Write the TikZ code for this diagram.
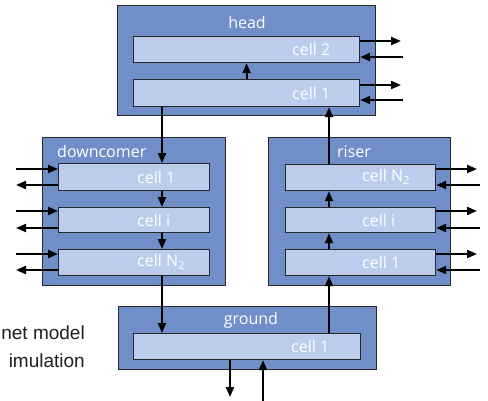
\documentclass[tikz,border=0pt]{standalone}
\usepackage{fontspec}
\setmainfont{Open Sans}
\newfontfamily\sidefont{Liberation Sans}
\usetikzlibrary{arrows.meta}
\definecolor{outerblue}{RGB}{112,142,200}
\definecolor{innerblue}{RGB}{188,204,236}
\definecolor{edgegray}{RGB}{40,40,40}
\tikzset{
  outerbox/.style={draw=edgegray,line width=1pt,fill=outerblue,inner sep=0pt,anchor=north west},
  cellbox/.style={draw=edgegray,line width=1.2pt,fill=innerblue,inner sep=0pt,anchor=north west},
  celltext/.style={text=white,font=\fontsize{16}{16}\selectfont,anchor=west,inner sep=0pt},
  titletext/.style={text=white,font=\fontsize{16}{16}\selectfont,inner sep=0pt},
  sidetext/.style={text=black!88,font=\sidefont\fontsize{19}{19}\selectfont,inner sep=0pt},
  arr/.style={line width=2pt,-{Triangle[length=10pt,width=8pt]}}
}
\begin{document}
\begin{tikzpicture}[x=1pt,y=-1pt]
\useasboundingbox (0,0) rectangle (488,400);
% outer boxes
\node[outerbox,minimum width=258pt,minimum height=110pt] (head) at (117,5) {};
\node[outerbox,minimum width=183pt,minimum height=148pt] (down) at (42,137) {};
\node[outerbox,minimum width=182pt,minimum height=148pt] (riser) at (268,137) {};
\node[outerbox,minimum width=258pt,minimum height=63pt] (ground) at (118,306) {};
% titles
\node[titletext] (headt) at (247,22) {head};
\node[titletext,anchor=west] (downt) at (57,151) {downcomer};
\node[titletext,anchor=west] (risert) at (337,152) {riser};
\node[titletext] (groundt) at (251,320) {ground};
% head cells
\node[cellbox,minimum width=226pt,minimum height=26pt] (h2) at (133,36) {};
\node[cellbox,minimum width=226pt,minimum height=27pt] (h1) at (133,79) {};
\node[celltext] (h2t) at (292,49) {cell 2};
\node[celltext] (h1t) at (292,93) {cell 1};
% downcomer cells
\node[cellbox,minimum width=151pt,minimum height=27pt] (d1) at (58,163) {};
\node[cellbox,minimum width=151pt,minimum height=25pt] (d2) at (58,207) {};
\node[cellbox,minimum width=151pt,minimum height=26pt] (d3) at (58,249) {};
\node[celltext] (d1t) at (137,177) {cell 1};
\node[celltext] (d2t) at (137,220) {cell i};
\node[celltext] (d3t) at (137,262) {cell N\textsubscript{2}};
% riser cells
\node[cellbox,minimum width=150pt,minimum height=26pt] (r3) at (285,164) {};
\node[cellbox,minimum width=150pt,minimum height=25pt] (r2) at (285,207) {};
\node[cellbox,minimum width=150pt,minimum height=26pt] (r1) at (285,249) {};
\node[celltext] (r3t) at (362,177) {cell N\textsubscript{2}};
\node[celltext] (r2t) at (362,220) {cell i};
\node[celltext] (r1t) at (362,262) {cell 1};
% ground cell
\node[cellbox,minimum width=227pt,minimum height=26pt] (g1) at (133,333) {};
\node[celltext] (g1t) at (291,346) {cell 1};
% side text
\node[sidetext,anchor=base east] (s1) at (85,339) {net model};
\node[sidetext,anchor=base east] (s2) at (85,367) {imulation};
% column coordinates
\coordinate (dx) at (162,0);
\coordinate (rx) at (329,0);
\coordinate (bdx) at (230,0);
\coordinate (bux) at (263,0);
% vertical flow
\draw[arr] (h1.north) -- (h2.south);
\draw[arr] (h1.south -| dx) -- (d1.north -| dx);
\draw[arr] (d1.south -| dx) -- (d2.north -| dx);
\draw[arr] (d2.south -| dx) -- (d3.north -| dx);
\draw[arr] (d3.south -| dx) -- (g1.north -| dx);
\draw[arr] (g1.north -| rx) -- (r1.south -| rx);
\draw[arr] (r1.north -| rx) -- (r2.south -| rx);
\draw[arr] (r2.north -| rx) -- (r3.south -| rx);
\draw[arr] (r3.north -| rx) -- (h1.south -| rx);
% bottom
\coordinate (bd) at (230,397);
\coordinate (bu) at (263,401);
\draw[arr] (g1.south -| bdx) -- (bd);
\draw[arr] (bu) -- (g1.south -| bux);
% head side arrows
\coordinate (ho2) at (401,41);
\coordinate (hi2) at (403,57);
\coordinate (ho1) at (401,85);
\coordinate (hi1) at (403,100);
\draw[arr] (h2.east |- ho2) -- (ho2);
\draw[arr] (hi2) -- (h2.east |- hi2);
\draw[arr] (h1.east |- ho1) -- (ho1);
\draw[arr] (hi1) -- (h1.east |- hi1);
% downcomer side arrows
\coordinate (di1) at (16,169);
\coordinate (do1) at (16,185);
\coordinate (di2) at (16,211);
\coordinate (do2) at (16,228);
\coordinate (di3) at (16,254);
\coordinate (do3) at (16,270);
\draw[arr] (di1) -- (d1.west |- di1);
\draw[arr] (d1.west |- do1) -- (do1);
\draw[arr] (di2) -- (d2.west |- di2);
\draw[arr] (d2.west |- do2) -- (do2);
\draw[arr] (di3) -- (d3.west |- di3);
\draw[arr] (d3.west |- do3) -- (do3);
% riser side arrows
\coordinate (ro3) at (477,169);
\coordinate (ri3) at (480,185);
\coordinate (ro2) at (477,211);
\coordinate (ri2) at (480,228);
\coordinate (ro1) at (477,254);
\coordinate (ri1) at (480,270);
\draw[arr] (r3.east |- ro3) -- (ro3);
\draw[arr] (ri3) -- (r3.east |- ri3);
\draw[arr] (r2.east |- ro2) -- (ro2);
\draw[arr] (ri2) -- (r2.east |- ri2);
\draw[arr] (r1.east |- ro1) -- (ro1);
\draw[arr] (ri1) -- (r1.east |- ri1);
\end{tikzpicture}
\end{document}
